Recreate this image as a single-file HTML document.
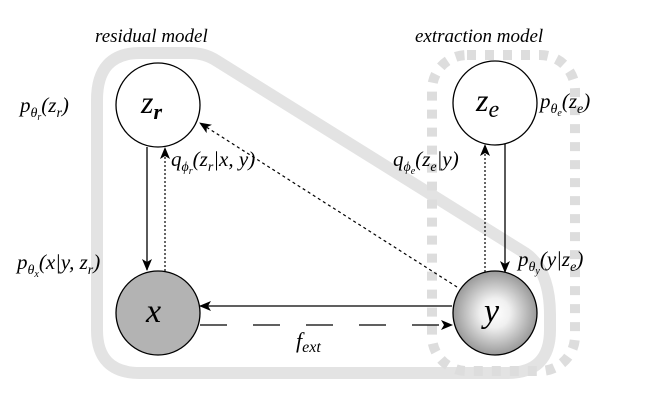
<!DOCTYPE html>
<html><head><meta charset="utf-8"><style>
html,body{margin:0;padding:0;background:#fff;width:650px;height:406px;overflow:hidden}
svg{display:block}
svg text{font-family:"Liberation Serif","DejaVu Serif","Times New Roman",serif;font-style:italic;fill:#000}
</style></head><body>
<svg width="650" height="406" viewBox="0 0 650 406" font-family="Liberation Serif, DejaVu Serif, serif">
<defs>
<marker id="ah" markerWidth="12" markerHeight="10" refX="11" refY="5" orient="auto" markerUnits="userSpaceOnUse">
<path d="M0,0 L12,5 L0,10 L3,5 Z" fill="#000"/></marker>
<radialGradient id="yg" cx="50%" cy="50%" r="50%"><stop offset="0" stop-color="#fff"/><stop offset="0.35" stop-color="#f0f0f0"/><stop offset="1" stop-color="#999"/></radialGradient>
</defs>
<text x="95" y="42" font-size="19">residual model</text>
<text x="415" y="42" font-size="19">extraction model</text>
<path d="M97,100 Q97,53 140,53 L190,53 Q205,53 217,61 L525,253 Q550,270 550,315 L550,330 Q550,373 507,373 L140,373 Q97,373 97,330 Z" fill="none" stroke="#e3e3e3" stroke-width="12"/>
<rect x="432" y="55" width="143" height="316" rx="35" fill="none" stroke="#dddddd" stroke-width="10" stroke-dasharray="9,9"/>
<line x1="147" y1="147" x2="147" y2="270" stroke="#000" stroke-width="1.3" marker-end="url(#ah)"/>
<line x1="165" y1="271" x2="165" y2="148" stroke="#000" stroke-width="1.2" stroke-dasharray="2,2" marker-end="url(#ah)"/>
<line x1="457" y1="287" x2="200" y2="123" stroke="#000" stroke-width="1.2" stroke-dasharray="3,3" marker-end="url(#ah)"/>
<line x1="452" y1="306" x2="200" y2="306" stroke="#000" stroke-width="1.3" marker-end="url(#ah)"/>
<line x1="200" y1="325" x2="452" y2="325" stroke="#000" stroke-width="1.3" stroke-dasharray="27,26" marker-end="url(#ah)"/>
<line x1="505" y1="144" x2="505" y2="272" stroke="#000" stroke-width="1.3" marker-end="url(#ah)"/>
<line x1="485" y1="272" x2="485" y2="145" stroke="#000" stroke-width="1.2" stroke-dasharray="2,2" marker-end="url(#ah)"/>
<circle cx="158" cy="105" r="42" fill="#fff" stroke="#000" stroke-width="1.3"/>
<circle cx="495" cy="103" r="42" fill="#fff" stroke="#000" stroke-width="1.3"/>
<circle cx="158" cy="313" r="42" fill="#b3b3b3" stroke="#000" stroke-width="1.3"/>
<circle cx="495" cy="313" r="42" fill="url(#yg)" stroke="#000" stroke-width="1.3"/>
<text x="141" y="113" font-size="32">z<tspan font-size="22" dy="6" font-weight="bold">r</tspan></text>
<text x="476" y="111" font-size="32">z<tspan font-size="24" dy="6">e</tspan></text>
<text x="146" y="322" font-size="34">x</text>
<text x="484" y="322" font-size="34">y</text>
<text x="20" y="112" font-size="21">p<tspan font-size="14" dy="5">θ</tspan><tspan font-size="10" dy="3">r</tspan><tspan font-size="21" dy="-8">(z</tspan><tspan font-size="14" dy="5">r</tspan><tspan font-size="21" dy="-5">)</tspan></text>
<text x="540" y="108" font-size="21">p<tspan font-size="14" dy="5">θ</tspan><tspan font-size="10" dy="3">e</tspan><tspan font-size="21" dy="-8">(z</tspan><tspan font-size="14" dy="5">e</tspan><tspan font-size="21" dy="-5">)</tspan></text>
<text x="171" y="166" font-size="21">q<tspan font-size="14" dy="5">ϕ</tspan><tspan font-size="10" dy="3">r</tspan><tspan font-size="21" dy="-8">(z</tspan><tspan font-size="14" dy="5">r</tspan><tspan font-size="21" dy="-5">|x, y)</tspan></text>
<text x="393" y="166" font-size="21">q<tspan font-size="14" dy="5">ϕ</tspan><tspan font-size="10" dy="3">e</tspan><tspan font-size="21" dy="-8">(z</tspan><tspan font-size="14" dy="5">e</tspan><tspan font-size="21" dy="-5">|y)</tspan></text>
<text x="17" y="269" font-size="21">p<tspan font-size="14" dy="5">θ</tspan><tspan font-size="10" dy="3">x</tspan><tspan font-size="21" dy="-8">(x|y, z</tspan><tspan font-size="14" dy="5">r</tspan><tspan font-size="21" dy="-5">)</tspan></text>
<text x="518" y="266" font-size="21">p<tspan font-size="14" dy="5">θ</tspan><tspan font-size="10" dy="3">y</tspan><tspan font-size="21" dy="-8">(y|z</tspan><tspan font-size="14" dy="5">e</tspan><tspan font-size="21" dy="-5">)</tspan></text>
<text x="296" y="348" font-size="22">f<tspan font-size="16" dy="4">ext</tspan></text>
</svg>
</body></html>
